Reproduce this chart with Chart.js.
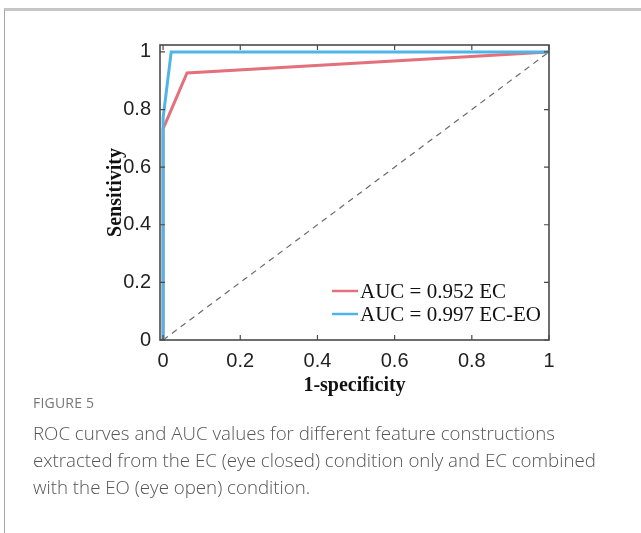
<!DOCTYPE html>
<html>
<head>
    <title>ROC curves</title>
    <script src="https://cdn.jsdelivr.net/npm/chart.js"></script>
    <style>
        body { margin: 0; background: #fff; }
        .frame {
            position: absolute; left: 4px; top: 8px; width: 637px; height: 525px;
            border-top: 3px solid #c6c6c6; border-left: 1.5px solid #a8a8a8;
            box-sizing: border-box;
        }
        .chart-container { position: absolute; left: 0; top: 0; width: 641px; height: 400px; }
        .caption {
            position: absolute; left: 33px; top: 393px; width: 580px;
            font-family: "Open Sans", sans-serif; color: #555;
        }
        .caption .fig { font-size: 14px; color: #777; letter-spacing: 0.2px; margin-bottom: 7px; }
        .caption .txt { font-size: 18.7px; line-height: 27px; font-weight: 300; }
    </style>
</head>
<body>
<div class="frame"></div>
<div class="chart-container">
    <canvas id="rocChart" width="641" height="400"></canvas>
</div>
<div class="caption">
    <div class="fig">FIGURE 5</div>
    <div class="txt">ROC curves and AUC values for different feature constructions extracted from the EC (eye closed) condition only and EC combined with the EO (eye open) condition.</div>
</div>
<script>
    // ROC points
    const ecFpr = [0, 0, 0.062, 1];
    const ecTpr = [0, 0.733, 0.927, 1];
    const ecEoFpr = [0, 0, 0.021, 1];
    const ecEoTpr = [0, 0.77, 1, 1];
    const chanceFpr = [0, 1];
    const chanceTpr = [0, 1];

    const xTicks = [0, 0.2, 0.4, 0.6, 0.8, 1];
    const yTicks = [0, 0.2, 0.4, 0.6, 0.8, 1];
    const legendLabels = ['AUC = 0.952 EC', 'AUC = 0.997 EC-EO'];

    const RED = '#e4707c';
    const BLUE = '#4fb5e8';

    function points(xs, ys) {
        return xs.map((x, i) => ({ x: x, y: ys[i] }));
    }

    // MATLAB-like box with inward ticks, plus legend inside the axes
    const boxPlugin = {
        id: 'box',
        afterDraw(chart) {
            const ctx = chart.ctx;
            const a = chart.chartArea;
            const xs = chart.scales.x, ys = chart.scales.y;
            ctx.save();
            ctx.strokeStyle = '#4a4a4a';
            ctx.lineWidth = 1.6;
            ctx.strokeRect(a.left, a.top, a.right - a.left, a.bottom - a.top);
            ctx.lineWidth = 1.2;
            ctx.beginPath();
            xTicks.forEach(v => {
                const px = xs.getPixelForValue(v);
                ctx.moveTo(px, a.bottom); ctx.lineTo(px, a.bottom - 5);
                ctx.moveTo(px, a.top); ctx.lineTo(px, a.top + 5);
            });
            yTicks.forEach(v => {
                const py = ys.getPixelForValue(v);
                ctx.moveTo(a.left, py); ctx.lineTo(a.left + 5, py);
                ctx.moveTo(a.right, py); ctx.lineTo(a.right - 5, py);
            });
            ctx.stroke();

            // legend
            const colors = [RED, BLUE];
            ctx.font = '21px "Liberation Serif", "Times New Roman", serif';
            ctx.textBaseline = 'middle';
            ctx.fillStyle = '#111';
            legendLabels.forEach((lab, i) => {
                const y = 291 + i * 23;
                ctx.strokeStyle = colors[i];
                ctx.lineWidth = 2.5;
                ctx.beginPath();
                ctx.moveTo(332, y); ctx.lineTo(358, y);
                ctx.stroke();
                ctx.fillText(lab, 360, y + 1);
            });
            ctx.restore();
        }
    };

    new Chart(document.getElementById('rocChart').getContext('2d'), {
        type: 'scatter',
        data: {
            datasets: [
                {
                    label: legendLabels[1],
                    data: points(ecEoFpr, ecEoTpr),
                    borderColor: BLUE, borderWidth: 3, showLine: true,
                    pointRadius: 0, order: 0
                },
                {
                    label: legendLabels[0],
                    data: points(ecFpr, ecTpr),
                    borderColor: RED, borderWidth: 3, showLine: true,
                    pointRadius: 0, order: 1
                },
                {
                    label: 'chance',
                    data: points(chanceFpr, chanceTpr),
                    borderColor: '#6a6a6a', borderWidth: 1.2, borderDash: [6, 5],
                    showLine: true, pointRadius: 0, order: 2
                }
            ]
        },
        options: {
            responsive: false,
            animation: false,
            layout: { padding: { left: 100, right: 92, top: 45, bottom: 0 } },
            plugins: { legend: { display: false }, tooltip: { enabled: false } },
            scales: {
                x: {
                    type: 'linear', min: -0.008, max: 1,
                    afterBuildTicks: s => { s.ticks = xTicks.map(v => ({ value: v })); },
                    afterFit: s => { s.height = 60; },
                    grid: { display: false, drawTicks: false },
                    border: { display: false },
                    ticks: {
                        padding: 9, color: '#222',
                        font: { family: '"Liberation Sans", Arial, sans-serif', size: 20 },
                        callback: v => String(v)
                    },
                    title: {
                        display: true, text: '1-specificity', color: '#111',
                        font: { family: '"Liberation Serif", "Times New Roman", serif', size: 20, weight: 'bold' },
                        padding: { top: 0, bottom: 2 }
                    }
                },
                y: {
                    type: 'linear', min: 0, max: 1.024,
                    afterBuildTicks: s => { s.ticks = yTicks.map(v => ({ value: v })); },
                    afterFit: s => { s.width = 60; },
                    grid: { display: false, drawTicks: false },
                    border: { display: false },
                    ticks: {
                        padding: 9, color: '#222',
                        font: { family: '"Liberation Sans", Arial, sans-serif', size: 20 },
                        callback: v => String(v)
                    },
                    title: {
                        display: true, text: 'Sensitivity', color: '#111',
                        font: { family: '"Liberation Serif", "Times New Roman", serif', size: 20, weight: 'bold' },
                        padding: { top: 4, bottom: 0 }
                    }
                }
            }
        },
        plugins: [boxPlugin]
    });
</script>
</body>
</html>
